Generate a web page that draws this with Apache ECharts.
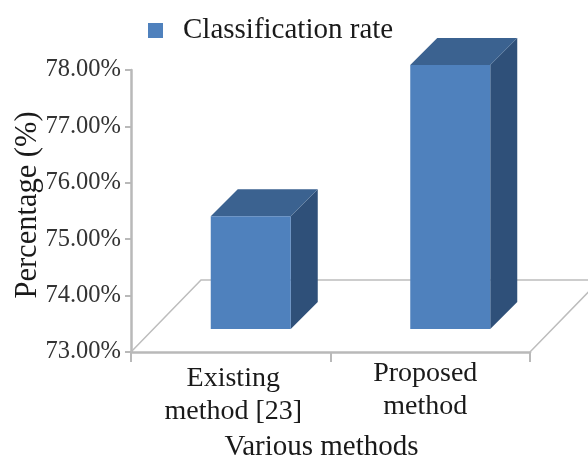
<!DOCTYPE html>
<html>
<head>
<meta charset="utf-8">
<style>
html, body { margin: 0; padding: 0; background: #fff; }
#chart { width: 588px; height: 457px; }
</style>
<script src="https://cdn.jsdelivr.net/npm/echarts@6/dist/echarts.min.js"></script>
</head>
<body>
<div id="chart"></div>
<script>
// Classification rate per method, in percent
const categories = ['Existing\nmethod [23]', 'Proposed\nmethod'];
const rates = [75.0, 77.68];
const seriesName = 'Classification rate';
const yTicks = { min: 73, max: 78, step: 1 };

// Pseudo-3D extrusion settings, in pixels
const DEPTH = 27;
const BAR_WIDTH = 80;
const BAR_SHIFT_X = 20;
const BAR_LIFT = 23;
const FLOOR_DEPTH_X = 70;
const FLOOR_DEPTH_Y = 72;

const FRONT = '#4f81bd';
const TOP = '#3b6290';
const SIDE = '#2f5079';
const AXIS = '#b9b9b9';
const FONT = '"Liberation Serif", "Times New Roman", serif';

function renderBox(params, api) {
  const cat = api.value(0);
  const top = api.coord([cat, api.value(1)]);
  const base = api.coord([cat, yTicks.min]);
  const x0 = top[0] + BAR_SHIFT_X - BAR_WIDTH / 2;
  const x1 = x0 + BAR_WIDTH;
  const yT = top[1] - BAR_LIFT;
  const yB = base[1] - BAR_LIFT;
  const poly = (points, fill) => ({
    type: 'polygon',
    shape: { points },
    style: { fill, stroke: null }
  });
  return {
    type: 'group',
    children: [
      poly([[x1, yT], [x1 + DEPTH, yT - DEPTH], [x1 + DEPTH, yB - DEPTH], [x1, yB]], SIDE),
      poly([[x0, yT], [x0 + DEPTH, yT - DEPTH], [x1 + DEPTH, yT - DEPTH], [x1, yT]], TOP),
      poly([[x0, yT], [x1, yT], [x1, yB], [x0, yB]], api.visual('color'))
    ]
  };
}

function renderFloor(params) {
  const g = params.coordSys;
  const left = g.x, right = g.x + g.width, bottom = g.y + g.height;
  const backY = bottom - FLOOR_DEPTH_Y;
  return {
    type: 'polyline',
    shape: {
      points: [
        [left, bottom],
        [left + FLOOR_DEPTH_X, backY],
        [right + FLOOR_DEPTH_X, backY],
        [right, bottom]
      ]
    },
    style: { fill: null, stroke: '#bdbdbd', lineWidth: 1.5 }
  };
}

const chart = echarts.init(document.getElementById('chart'), null, { renderer: 'canvas' });
chart.setOption({
  animation: false,
  backgroundColor: '#ffffff',
  grid: { left: 131, right: 58, top: 70, bottom: 105, outerBoundsMode: 'none' },
  legend: {
    left: 143,
    top: 11,
    data: [{ name: seriesName, icon: 'rect' }],
    itemWidth: 15,
    itemHeight: 15,
    textStyle: { fontFamily: FONT, fontSize: 29, color: '#1a1a1a', padding: [0, 0, 0, 15] }
  },
  xAxis: {
    type: 'category',
    data: [
      { value: categories[0], textStyle: { padding: [5, 0, 0, 5] } },
      { value: categories[1], textStyle: { padding: [0, 10, 0, 0] } }
    ],
    name: 'Various methods',
    nameLocation: 'middle',
    nameGap: 73,
    nameTextStyle: { fontFamily: FONT, fontSize: 29, color: '#1a1a1a', padding: [0, 18, 0, 0] },
    axisLine: { lineStyle: { color: AXIS, width: 2.5 } },
    axisTick: { show: true, length: 10, lineStyle: { color: AXIS, width: 2 } },
    axisLabel: { fontFamily: FONT, fontSize: 28, color: '#1a1a1a', lineHeight: 33, margin: 5, interval: 0 },
    splitLine: { show: false }
  },
  yAxis: {
    type: 'value',
    min: yTicks.min,
    max: yTicks.max,
    interval: yTicks.step,
    name: 'Percentage (%)',
    nameLocation: 'middle',
    nameRotate: 90,
    nameGap: 88,
    nameMoveOverlap: false,
    nameTextStyle: { fontFamily: FONT, fontSize: 30.5, color: '#1a1a1a', padding: [0, 0, 0, 12] },
    axisLine: { show: true, lineStyle: { color: AXIS, width: 2.5 } },
    axisTick: { show: true, length: 6, lineStyle: { color: AXIS, width: 2 } },
    axisLabel: {
      fontFamily: FONT,
      fontSize: 24.5,
      color: '#333333',
      margin: 10,
      padding: [3, 0, 0, 0],
      formatter: v => v.toFixed(2) + '%'
    },
    splitLine: { show: false }
  },
  series: [
    {
      type: 'custom',
      name: 'floor',
      silent: true,
      z: 1,
      renderItem: renderFloor,
      data: [[0, yTicks.min]]
    },
    {
      type: 'custom',
      name: seriesName,
      z: 3,
      itemStyle: { color: FRONT },
      renderItem: renderBox,
      encode: { x: 0, y: 1 },
      data: rates.map((r, i) => [i, r])
    }
  ]
});
</script>
</body>
</html>
